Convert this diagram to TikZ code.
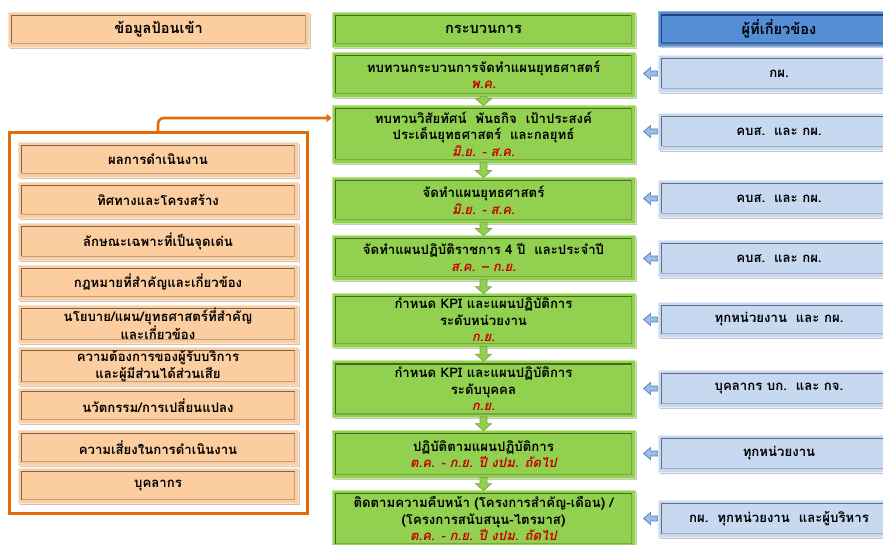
\documentclass[tikz,border=0pt]{standalone}
\usepackage{fontspec}
\setmainfont[Script=Thai]{Loma}
\usetikzlibrary{shadows,calc,arrows.meta}

\definecolor{peach}{RGB}{252,205,158}
\definecolor{peachedge}{RGB}{253,228,200}
\definecolor{peachdark}{RGB}{125,100,82}
\definecolor{peachlite}{RGB}{190,160,130}
\definecolor{leaf}{RGB}{146,208,80}
\definecolor{leafedge}{RGB}{196,234,150}
\definecolor{leafdark}{RGB}{70,105,35}
\definecolor{leaflite}{RGB}{120,165,70}
\definecolor{sky}{RGB}{198,217,241}
\definecolor{skyedge}{RGB}{228,238,250}
\definecolor{skydark}{RGB}{100,112,130}
\definecolor{skylite}{RGB}{160,172,190}
\definecolor{navy}{RGB}{85,142,213}
\definecolor{navyedge}{RGB}{140,180,230}
\definecolor{navydark}{RGB}{35,65,115}
\definecolor{navylite}{RGB}{60,100,160}
\definecolor{frameorange}{RGB}{226,108,10}
\definecolor{datered}{RGB}{200,0,0}
\definecolor{arrowblue}{RGB}{155,190,232}
\definecolor{arrowblueline}{RGB}{85,125,185}

\tikzset{
  bevel/.style n args={4}{
    fill=#1, draw=#2, line width=0.8pt, inner sep=0pt, align=center,
    font=\bfseries\fontsize{13.2}{16.5}\selectfont,
    drop shadow={shadow xshift=1.6pt, shadow yshift=-1.8pt, opacity=0.45},
    path picture={
      \draw[#3, line width=1.4pt]
        ([shift={(3.5pt,3.5pt)}]path picture bounding box.south west) --
        ([shift={(3.5pt,-3.5pt)}]path picture bounding box.north west) --
        ([shift={(-3.5pt,-3.5pt)}]path picture bounding box.north east);
      \draw[#4, line width=1.4pt]
        ([shift={(-3.5pt,-3.5pt)}]path picture bounding box.north east) --
        ([shift={(-3.5pt,3.5pt)}]path picture bounding box.south east) --
        ([shift={(3.5pt,3.5pt)}]path picture bounding box.south west);
    }},
  inbox/.style={bevel={peach}{peachedge}{peachdark}{peachlite}, minimum width=280pt},
  stepbox/.style={bevel={leaf}{leafedge}{leafdark}{leaflite}, minimum width=303pt},
  whobox/.style={bevel={sky}{skyedge}{skydark}{skylite}, minimum width=242pt},
  headbox/.style={font=\bfseries\fontsize{14.6}{17}\selectfont, minimum height=35pt},
  garrow/.style={fill=leaf, draw=leaflite, line width=0.7pt},
  barrow/.style={fill=arrowblue, draw=arrowblueline, line width=0.7pt},
  feed/.style={draw=frameorange, line width=2.6pt, rounded corners=6pt,
    -{Triangle[length=5pt,width=8pt]}}
}

\newcommand\datetext[1]{{\color{datered}\itshape #1}}
% green block arrow from the bottom of one step to the top of the next
\newcommand\flowdown[2]{\filldraw[garrow]
  ($(#1.south)+(-3.5,-1)$) -- ($(#2.north)+(-3.5,-6)$) -- ($(#2.north)+(-8,-6)$) --
  ($(#2.north)+(0,1)$) -- ($(#2.north)+(8,-6)$) -- ($(#2.north)+(3.5,-6)$) --
  ($(#1.south)+(3.5,-1)$) -- cycle;}
% blue block arrow pointing left from a participant box
\newcommand\flowleft[1]{\filldraw[barrow]
  ($(#1.west)+(0,-2.5)$) -- ($(#1.west)+(-7,-2.5)$) -- ($(#1.west)+(-7,-6)$) --
  ($(#1.west)+(-14,0)$) -- ($(#1.west)+(-7,6)$) -- ($(#1.west)+(-7,2.5)$) --
  ($(#1.west)+(0,2.5)$) -- cycle;}

\begin{document}
\begin{tikzpicture}[x=1pt,y=-1pt]
\useasboundingbox (0,0) rectangle (883,545);

% column headings
\node[inbox, headbox, minimum width=301pt] (hin) at (158.5,29.5) {ข้อมูลป้อนเข้า};
\node[stepbox, headbox] (hproc) at (483.5,29.5) {กระบวนการ};
\node[bevel={navy}{navyedge}{navydark}{navylite}, headbox, minimum width=242pt] (hwho) at (779,29) {ผู้ที่เกี่ยวข้อง};

% input frame and its items
\node[draw=frameorange, line width=3pt, fill=white, minimum width=298pt, minimum height=380pt,
  drop shadow={shadow xshift=1.6pt, shadow yshift=-1.8pt, opacity=0.45}] (inputs) at (158,323) {};
\node[inbox, minimum height=35pt] (i1) at (158,159.5) {ผลการดำเนินงาน};
\node[inbox, minimum height=36pt] (i2) at (158,200) {ทิศทางและโครงสร้าง};
\node[inbox, minimum height=37pt] (i3) at (158,241.5) {ลักษณะเฉพาะที่เป็นจุดเด่น};
\node[inbox, minimum height=35pt] (i4) at (158,282.5) {กฎหมายที่สำคัญและเกี่ยวข้อง};
\node[inbox, minimum height=38pt] (i5) at (158,324) {นโยบาย/แผน/ยุทธศาสตร์ที่สำคัญ\\และเกี่ยวข้อง};
\node[inbox, minimum height=38pt] (i6) at (158,366) {ความต้องการของผู้รับบริการ\\และผู้มีส่วนได้ส่วนเสีย};
\node[inbox, minimum height=35pt] (i7) at (158,405.5) {นวัตกรรม/การเปลี่ยนแปลง};
\node[inbox, minimum height=35pt] (i8) at (158,447.5) {ความเสี่ยงในการดำเนินงาน};
\node[inbox, minimum height=35pt] (i9) at (158,485.5) {บุคลากร};

% process steps
\node[stepbox, minimum height=45pt] (m1) at (483.5,74.5) {ทบทวนกระบวนการจัดทำแผนยุทธศาสตร์\\\datetext{พ.ค.}};
\node[stepbox, minimum height=58pt] (m2) at (483.5,134) {ทบทวนวิสัยทัศน์~~พันธกิจ~~เป้าประสงค์\\ประเด็นยุทธศาสตร์~~และกลยุทธ์\\\datetext{มิ.ย. - ส.ค.}};
\node[stepbox, minimum height=46pt] (m3) at (483.5,200) {จัดทำแผนยุทธศาสตร์\\\datetext{มิ.ย. - ส.ค.}};
\node[stepbox, minimum height=45pt] (m4) at (483.5,257.5) {จัดทำแผนปฏิบัติราชการ 4 ปี~~และประจำปี\\\datetext{ส.ค. – ก.ย.}};
\node[stepbox, minimum height=54pt] (m5) at (483.5,320) {กำหนด KPI และแผนปฏิบัติการ\\ระดับหน่วยงาน\\\datetext{ก.ย.}};
\node[stepbox, minimum height=57pt] (m6) at (483.5,389) {กำหนด KPI และแผนปฏิบัติการ\\ระดับบุคคล\\\datetext{ก.ย.}};
\node[stepbox, minimum height=48pt] (m7) at (483.5,454) {ปฏิบัติตามแผนปฏิบัติการ\\\datetext{ต.ค. - ก.ย. ปี งปม. ถัดไป}};
\node[stepbox, minimum height=57pt] (m8) at (483.5,518.5) {ติดตามความคืบหน้า (โครงการสำคัญ-เดือน) /\\(โครงการสนับสนุน-ไตรมาส)\\\datetext{ต.ค. - ก.ย. ปี งปม. ถัดไป}};

% participants
\node[whobox, minimum height=37pt] (r1) at (779,73.5) {กผ.};
\node[whobox, minimum height=37pt] (r2) at (779,131.5) {คบส.~~และ กผ.};
\node[whobox, minimum height=37pt] (r3) at (779,198.5) {คบส.~~และ กผ.};
\node[whobox, minimum height=37pt] (r4) at (779,258.5) {คบส.~~และ กผ.};
\node[whobox, minimum height=35pt] (r5) at (779,319.5) {ทุกหน่วยงาน~~และ กผ.};
\node[whobox, minimum height=37pt] (r6) at (779,388.5) {บุคลากร บก.~~และ กจ.};
\node[whobox, minimum height=37pt] (r7) at (779,453.5) {ทุกหน่วยงาน};
\node[whobox, minimum height=37pt] (r8) at (779,518.5) {กผ.~~ทุกหน่วยงาน~~และผู้บริหาร};

% flow between steps
\flowdown{m1}{m2}
\flowdown{m2}{m3}
\flowdown{m3}{m4}
\flowdown{m4}{m5}
\flowdown{m5}{m6}
\flowdown{m6}{m7}
\flowdown{m7}{m8}

% participants feeding the steps
\foreach \r in {r1,r2,r3,r4,r5,r6,r7,r8} {\flowleft{\r}}

% inputs feed the review step
\coordinate (feedin) at ($(m2.west)+(0,-16)$);
\draw[feed] (inputs.north) |- (feedin);
\end{tikzpicture}
\end{document}
